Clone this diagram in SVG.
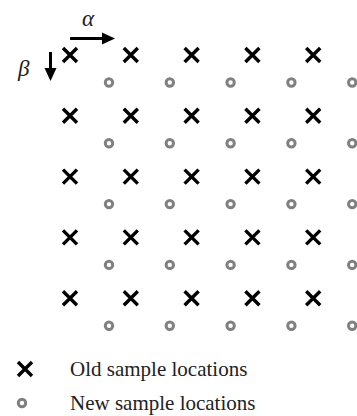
<svg xmlns="http://www.w3.org/2000/svg" width="357" height="416" viewBox="0 0 357 416">
<style>
.x{stroke:#000;stroke-width:3.4;fill:none}
.o{stroke:#808080;stroke-width:3;fill:none}
.lbl{font-family:"Liberation Serif",serif;font-size:21px;fill:#222}
.gk{font-family:"Liberation Serif",serif;font-style:italic;font-size:23px;fill:#222}
.ar{stroke:#000;stroke-width:3;fill:none}
</style>
<defs>
<path id="cx" class="x" d="M-7,-7L7,7M7,-7L-7,7"/>
<circle id="co" class="o" r="3.7"/>
<g id="crow">
<use href="#cx" x="0"/><use href="#cx" x="60.8"/><use href="#cx" x="121.6"/><use href="#cx" x="182.4"/><use href="#cx" x="243.2"/>
<use href="#co" x="39" y="27.5"/><use href="#co" x="99.8" y="27.5"/><use href="#co" x="160.6" y="27.5"/><use href="#co" x="221.4" y="27.5"/><use href="#co" x="282.2" y="27.5"/>
</g>
</defs>
<g id="grid">
<use href="#crow" x="70" y="55"/>
<use href="#crow" x="70" y="115.8"/>
<use href="#crow" x="70" y="176.6"/>
<use href="#crow" x="70" y="237.4"/>
<use href="#crow" x="70" y="298.2"/>
</g>
<g id="connectors">
<line class="ar" x1="70" y1="38.5" x2="104" y2="38.5"/>
<polygon points="102,32.5 115,38.5 102,44.5" fill="#000"/>
<line class="ar" x1="50.5" y1="52" x2="50.5" y2="70"/>
<polygon points="44.5,68 56.5,68 50.5,81" fill="#000"/>
</g>
<g id="alpha"><text class="gk" x="82" y="26">α</text></g>
<g id="beta"><text class="gk" x="18" y="76">β</text></g>
<g id="legend-old">
<use href="#cx" x="25" y="369"/>
<text class="lbl" x="70" y="376">Old sample locations</text>
</g>
<g id="legend-new">
<use href="#co" x="22" y="403"/>
<text class="lbl" x="70" y="410">New sample locations</text>
</g>
</svg>
